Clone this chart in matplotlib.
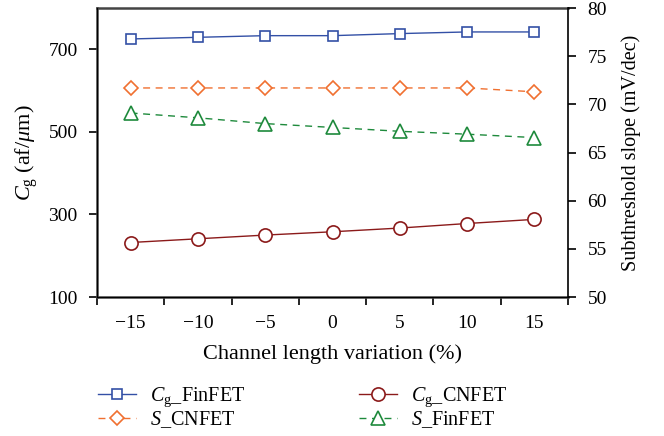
import matplotlib.pyplot as plt
from matplotlib.ticker import FixedLocator, NullFormatter

plt.rcParams['font.family'] = ['Liberation Serif', 'DejaVu Serif']
plt.rcParams['mathtext.fontset'] = 'custom'
plt.rcParams['mathtext.rm'] = 'Liberation Serif'
plt.rcParams['mathtext.it'] = 'Liberation Serif:italic'

variation = [-15, -10, -5, 0, 5, 10, 15]
cg_finfet = [725, 729, 733, 733, 738, 742, 742]
cg_cnfet = [232, 241, 250, 258, 267, 278, 288]
s_cnfet = [71.7, 71.7, 71.7, 71.7, 71.7, 71.7, 71.3]
s_finfet = [69.1, 68.6, 68.0, 67.6, 67.2, 66.9, 66.55]

fig = plt.figure(figsize=(6.64, 4.36), dpi=100)
ax = fig.add_axes([97 / 664, 1 - 297 / 436, 471 / 664, 289 / 436])
ax2 = ax.twinx()

blue, red, orange, green = '#3350a6', '#8b1a1a', '#f07030', '#1e8a3c'

l1, = ax.plot(variation, cg_finfet, '-', color=blue, lw=1, marker='s', ms=7.5,
              mfc='white', mec=blue, mew=1.2, label='$C_\\mathrm{g}$_FinFET')
l2, = ax.plot(variation, cg_cnfet, '-', color=red, lw=1, marker='o', ms=9.5,
              mfc='white', mec=red, mew=1.2, label='$C_\\mathrm{g}$_CNFET')
l3, = ax2.plot(variation, s_cnfet, '--', color=orange, lw=1, marker='D', ms=7,
               mfc='white', mec=orange, mew=1.2, dashes=(5, 4), label='$S$_CNFET')
l4, = ax2.plot(variation, s_finfet, '--', color=green, lw=1, marker='^', ms=10.5,
               mfc='white', mec=green, mew=1.2, dashes=(5, 4), label='$S$_FinFET')

ax.set_xlim(-17.5, 17.5)
ax.set_ylim(100, 800)
ax2.set_ylim(50, 80)

ax.xaxis.set_major_locator(FixedLocator([-17.5, -12.5, -7.5, -2.5, 2.5, 7.5, 12.5, 17.5]))
ax.xaxis.set_major_formatter(NullFormatter())
ax.xaxis.set_minor_locator(FixedLocator(variation))
ax.set_xticklabels(['\u221215', '\u221210', '\u22125', '0', '5', '10', '15'], minor=True)
ax.tick_params(axis='x', which='minor', length=0, pad=13, labelsize=14)
ax.tick_params(axis='x', which='major', length=6, width=1.2, direction='out')
ax.set_yticks([100, 300, 500, 700])
ax.tick_params(axis='y', length=6, width=1.2, labelsize=14, pad=8)
ax2.set_yticks([50, 55, 60, 65, 70, 75, 80])
ax2.tick_params(axis='y', length=6, width=1.2, labelsize=14, pad=8)

for sp in ['left', 'bottom', 'top']:
    ax.spines[sp].set_color('#444444')
    ax.spines[sp].set_linewidth(1.8)
ax2.spines['right'].set_linewidth(1.2)
ax2.spines['top'].set_visible(False)
ax.spines['right'].set_visible(False)

ax.set_xlabel('Channel length variation (%)', fontsize=16, labelpad=9)
ax.set_ylabel('$C_\\mathrm{g}$ (af/$\\mu$m)', fontsize=16, labelpad=6)
ax2.set_ylabel('Subthreshold slope (mV/dec)', fontsize=14.5, labelpad=10)

fig.legend(handles=[l1, l3, l2, l4], ncol=2, loc='upper left',
           bbox_to_anchor=(80 / 664, 1 - 367 / 436), frameon=False, fontsize=14.5,
           handlelength=1.9, columnspacing=5.6, labelspacing=0.02, handletextpad=0.7)

fig.savefig('out.png', dpi=100)
